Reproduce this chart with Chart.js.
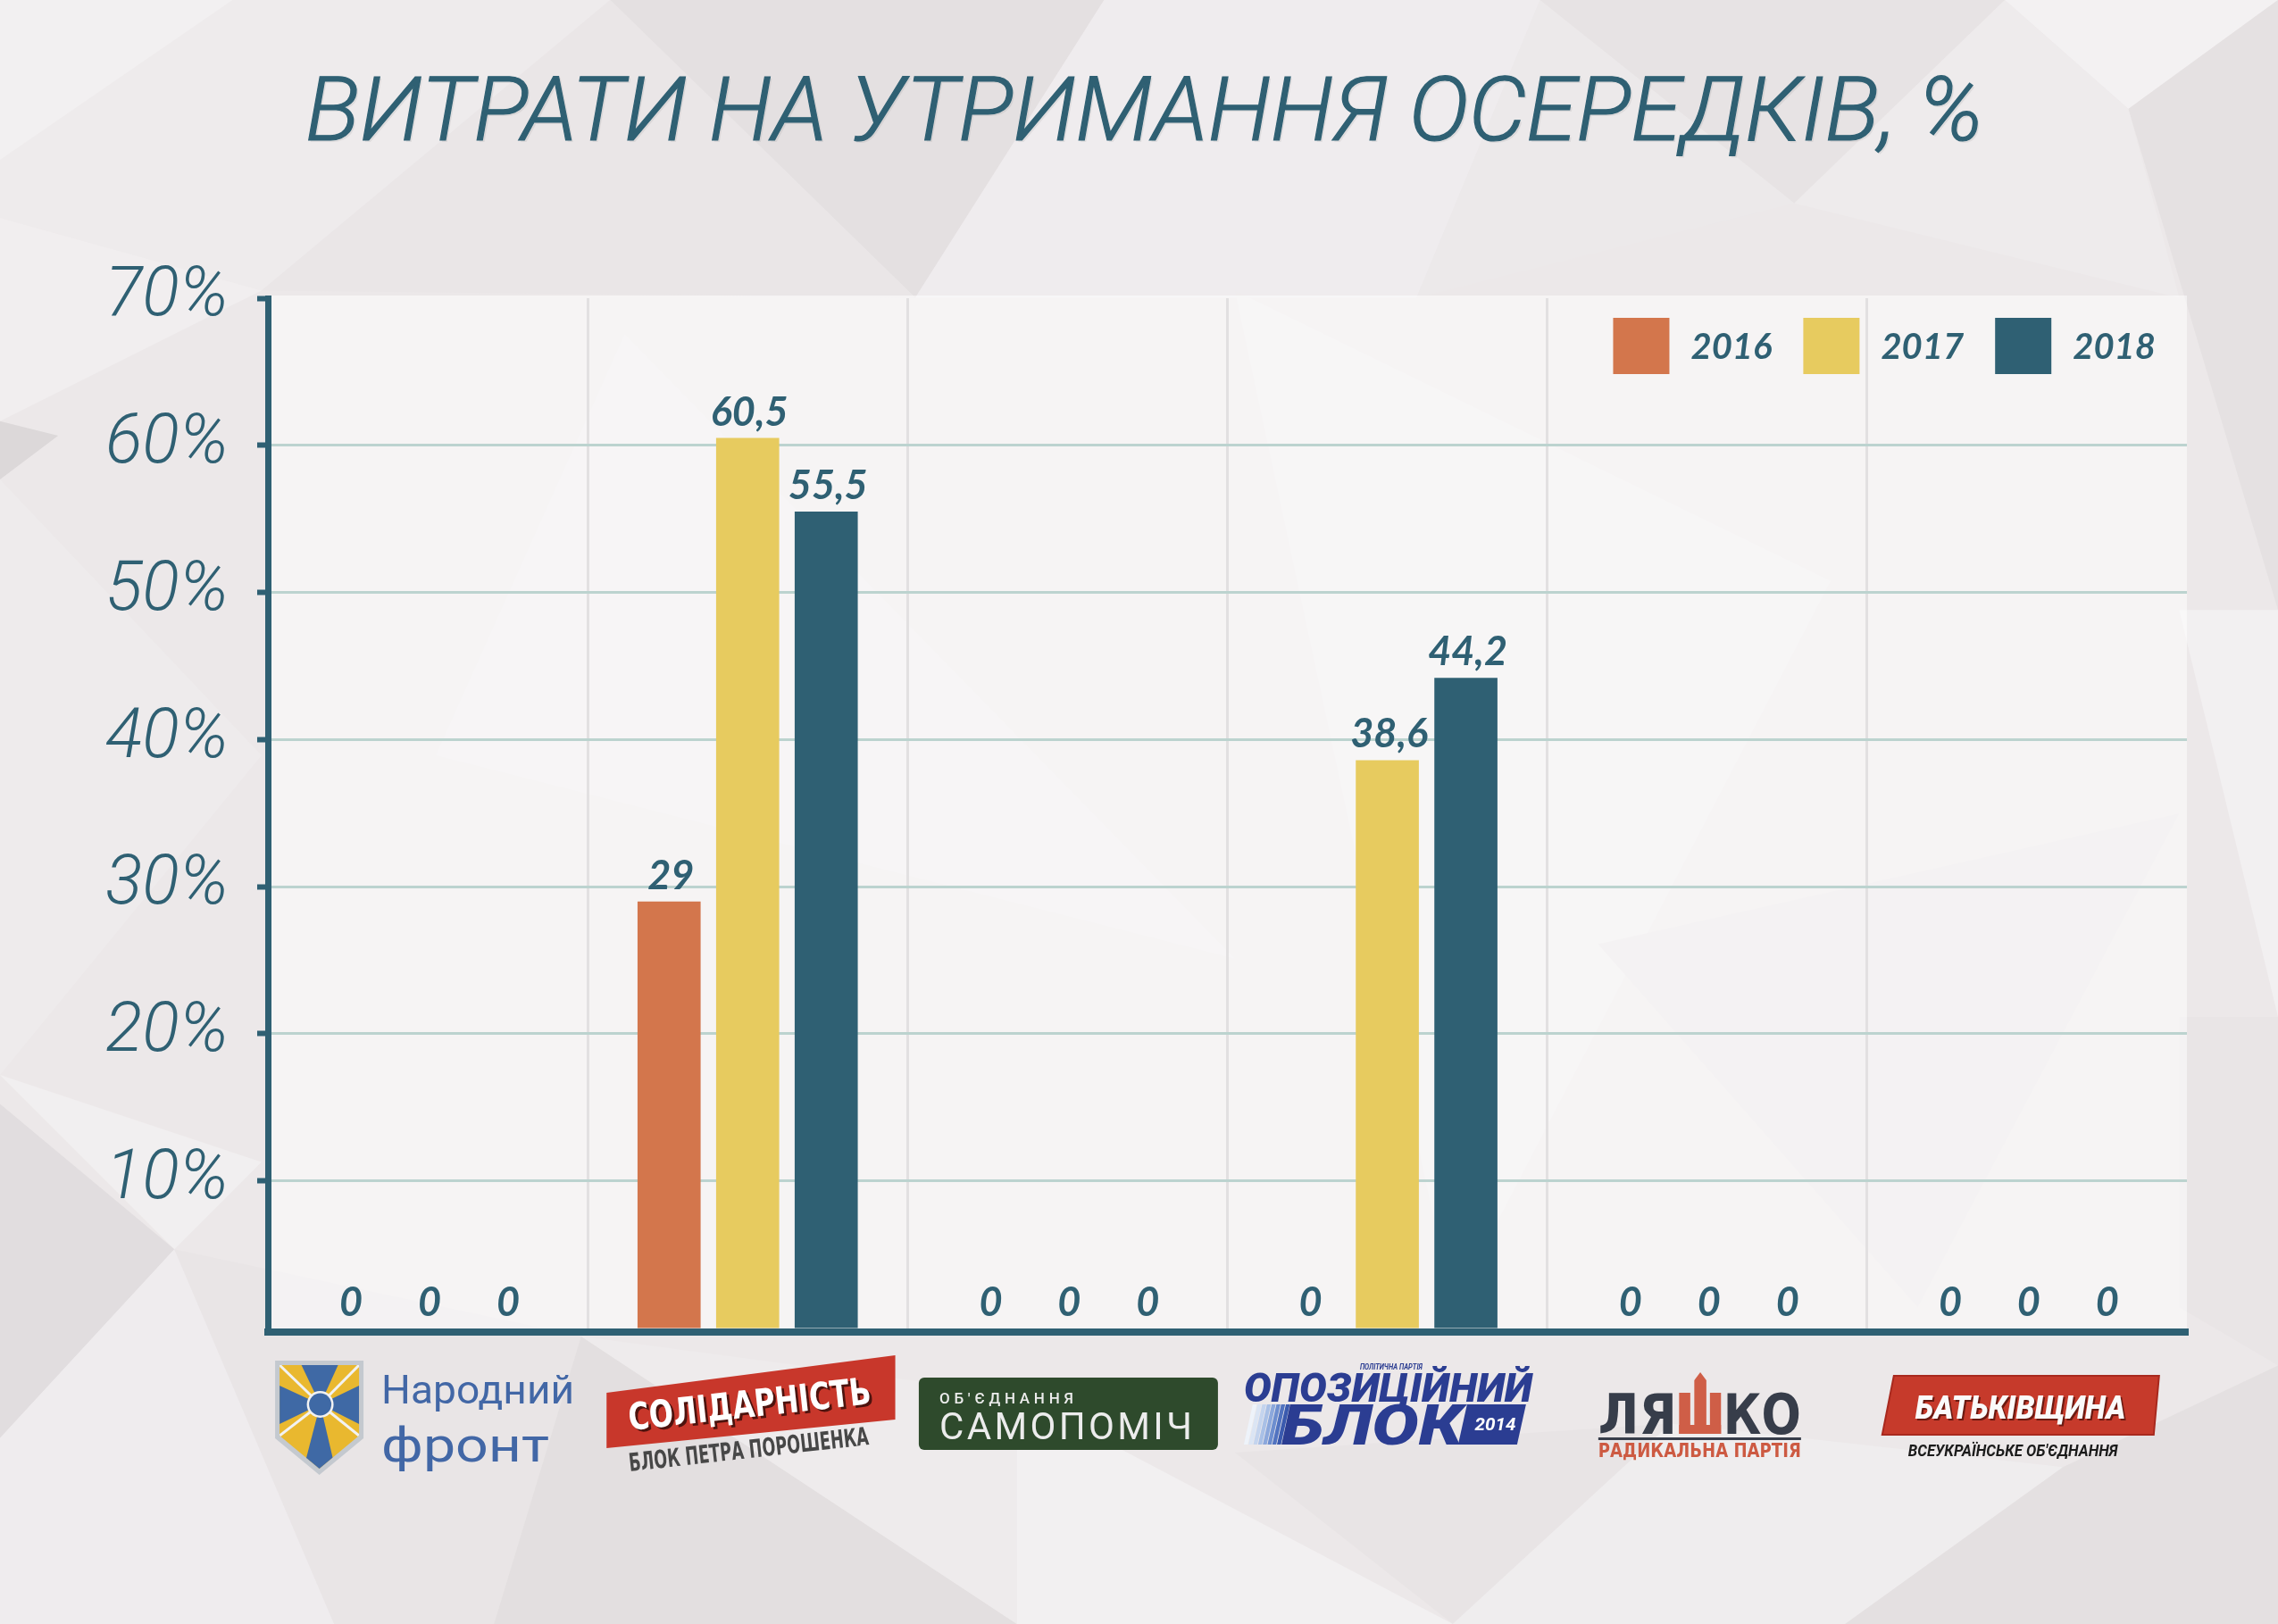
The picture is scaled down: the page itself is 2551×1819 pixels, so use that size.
<!DOCTYPE html>
<html>
<head>
<meta charset="utf-8">
<script src="https://cdn.jsdelivr.net/npm/chart.js"></script>
<style>
html,body{margin:0;padding:0;width:2551px;height:1819px;overflow:hidden;background:#ece8e9;}
#bg{position:absolute;left:0;top:0;width:2551px;height:1819px;}
#c{position:absolute;left:0;top:0;}
#title{position:absolute;left:342px;top:74px;font-family:Roboto,"Open Sans",sans-serif;font-style:italic;font-weight:300;font-size:99px;line-height:99px;color:#2f6073;white-space:nowrap;transform-origin:0 0;text-shadow:2px 2px 0 rgba(90,90,90,0.10);-webkit-text-stroke:1.2px #2f6073;}
</style>
</head>
<body>
<svg id="bg" viewBox="0 0 1568 1118" preserveAspectRatio="none" xmlns="http://www.w3.org/2000/svg">
<rect width="1568" height="1118" fill="#ece8e9"/>
<polygon points="0,0 420,0 180,200 0,150" fill="#eeebec"/>
<polygon points="0,0 160,0 0,110" fill="#f2f0f1"/>
<polygon points="420,0 760,0 630,205" fill="#e4e0e1"/>
<polygon points="420,0 630,205 180,200" fill="#eae6e7"/>
<polygon points="760,0 1060,0 975,205 630,205" fill="#efecee"/>
<polygon points="1060,0 1380,0 1235,140" fill="#e7e3e4"/>
<polygon points="1060,0 1235,140 975,205" fill="#ece9ea"/>
<polygon points="1380,0 1568,0 1465,75" fill="#f3f1f2"/>
<polygon points="1465,75 1568,0 1568,420" fill="#e5e1e2"/>
<polygon points="1380,0 1465,75 1500,205 1235,140" fill="#eeebec"/>
<polygon points="0,150 180,200 0,290" fill="#f1eeef"/>
<polygon points="0,290 40,300 0,330" fill="#dcd8d9"/>
<polygon points="0,330 180,520 0,740" fill="#eeebec"/>
<polygon points="0,740 180,800 120,860" fill="#f1eff0"/>
<polygon points="0,760 120,860 0,990" fill="#e1dddf"/>
<polygon points="0,990 120,860 230,1118 0,1118" fill="#efecee"/>
<polygon points="120,860 400,920 340,1118 230,1118" fill="#e9e5e6"/>
<polygon points="400,920 700,1118 340,1118" fill="#e3dfe0"/>
<polygon points="400,920 700,960 700,1118" fill="#eeebec"/>
<polygon points="700,960 1000,1118 700,1118" fill="#f2f0f1"/>
<polygon points="850,1000 1150,980 1000,1118" fill="#e8e4e5"/>
<polygon points="1150,980 1420,1010 1270,1118 1000,1118" fill="#efedee"/>
<polygon points="1420,1010 1568,940 1568,1118 1270,1118" fill="#e4e0e1"/>
<polygon points="1500,420 1568,420 1568,700" fill="#f2f0f1"/>
<polygon points="1500,700 1568,700 1568,940 1500,900" fill="#e9e5e6"/>
<polygon points="430,230 850,660 300,520" fill="#eeebec"/>
<polygon points="850,200 1260,400 1000,900" fill="#efeced"/>
<polygon points="1100,650 1500,560 1320,900" fill="#e9e5e6"/>
</svg>
<canvas id="c" width="2551" height="1819"></canvas>
<div id="title">ВИТРАТИ НА УТРИМАННЯ ОСЕРЕДКІВ, %</div>
<script>
// ---- data ----
const categories = ['Народний фронт', 'Солідарність', 'Самопоміч', 'Опозиційний блок', 'Радикальна партія Ляшка', 'Батьківщина'];
const seriesLabels = ['2016', '2017', '2018'];
const values2016 = [0, 29, 0, 0, 0, 0];
const values2017 = [0, 60.5, 0, 38.6, 0, 0];
const values2018 = [0, 55.5, 0, 44.2, 0, 0];
const yTickValues = [10, 20, 30, 40, 50, 60, 70];

// ---- styles ----
const seriesColors = ['#d3764c', '#e7cb5f', '#2f6073'];
const TEAL = '#2f6073';

function fitText(ctx, text, x, y, width) {
  const w = ctx.measureText(text).width;
  ctx.save(); ctx.translate(x, y); ctx.scale(width / w, 1); ctx.fillText(text, 0, 0); ctx.restore();
}
function rotText(ctx, text, x, y, angle, width) {
  ctx.save(); ctx.translate(x, y); ctx.rotate(angle);
  const w = ctx.measureText(text).width; ctx.scale(width / w, 1); ctx.fillText(text, 0, 0); ctx.restore();
}
function spacedText(ctx, text, x, y, width) {
  const chars = Array.from(text);
  const ws = chars.map(ch => ctx.measureText(ch).width);
  const total = ws.reduce((a, b) => a + b, 0);
  const gap = chars.length > 1 ? (width - total) / (chars.length - 1) : 0;
  let px = x;
  chars.forEach((ch, i) => { ctx.fillText(ch, px, y); px += ws[i] + gap; });
}
function poly(ctx, pts, fill) {
  ctx.beginPath(); ctx.moveTo(pts[0][0], pts[0][1]);
  for (let i = 1; i < pts.length; i++) ctx.lineTo(pts[i][0], pts[i][1]);
  ctx.closePath(); if (fill) { ctx.fillStyle = fill; ctx.fill(); }
}

const logoDrawers = [
  function (ctx, cx) { // Народний фронт
    const sx = cx - 121.5, L = sx - 49.5, R = sx + 49.5, T = 1524;
    poly(ctx, [[L, T], [R, T], [R, 1611], [sx, 1652], [L, 1611]], '#c4c9cf');
    const l = L + 5, r = R - 5, t = T + 5;
    ctx.save();
    poly(ctx, [[l, t], [r, t], [r, 1608], [sx, 1645], [l, 1608]], '#e9b82f');
    ctx.clip();
    const C = [sx + 1, 1573];
    poly(ctx, [C, [sx - 20, t], [sx + 21, t]], '#3f69a5');
    poly(ctx, [C, [l, 1552], [l, 1595]], '#3f69a5');
    poly(ctx, [C, [r, 1552], [r, 1595]], '#3f69a5');
    poly(ctx, [C, [sx - 19, 1650], [sx + 19, 1650]], '#3f69a5');
    ctx.strokeStyle = '#f2f2f2'; ctx.lineWidth = 3;
    [[l, t], [r, t], [l, 1608], [r, 1608]].forEach(p => { ctx.beginPath(); ctx.moveTo(C[0], C[1]); ctx.lineTo(p[0], p[1]); ctx.stroke(); });
    ctx.restore();
    ctx.beginPath(); ctx.arc(sx + 1, 1573, 15, 0, Math.PI * 2); ctx.fillStyle = '#f2f2f2'; ctx.fill();
    ctx.beginPath(); ctx.arc(sx + 1, 1573, 12.5, 0, Math.PI * 2); ctx.fillStyle = '#3f69a5'; ctx.fill();
    ctx.fillStyle = '#4267a6';
    ctx.font = '400 44px Roboto';
    fitText(ctx, 'Народний', cx - 52, 1572, 216);
    ctx.font = '400 53px Roboto';
    fitText(ctx, 'фронт', cx - 52, 1637, 188);
  },
  function (ctx, cx) { // Солідарність
    poly(ctx, [[cx - 158, 1560], [cx + 165.3, 1518], [cx + 165.3, 1590], [cx - 158, 1622]], '#c8372b');
    ctx.font = 'bold 42px "DejaVu Sans"';
    const a = Math.atan2(-30, 272);
    ctx.fillStyle = '#4d130e';
    rotText(ctx, 'СОЛІДАРНІСТЬ', cx - 132 + 3, 1602 + 2.5, a, 273);
    ctx.fillStyle = '#ffffff';
    rotText(ctx, 'СОЛІДАРНІСТЬ', cx - 132, 1602, a, 273);
    ctx.font = 'bold 28px "DejaVu Sans"';
    ctx.fillStyle = '#474747';
    rotText(ctx, 'БЛОК ПЕТРА ПОРОШЕНКА', cx - 132, 1648, Math.atan2(-30, 269), 270);
  },
  function (ctx, cx) { // Самопоміч
    ctx.beginPath();
    if (ctx.roundRect) ctx.roundRect(cx - 166.5, 1543, 335, 81, 6); else ctx.rect(cx - 166.5, 1543, 335, 81);
    ctx.fillStyle = '#2e4a2c'; ctx.fill();
    ctx.fillStyle = '#ececec';
    ctx.font = '500 17px Roboto';
    spacedText(ctx, "ОБ'ЄДНАННЯ", cx - 143.5, 1572, 150);
    ctx.font = '400 42px Roboto';
    spacedText(ctx, 'САМОПОМІЧ', cx - 143.5, 1612, 283);
  },
  function (ctx, cx) { // Опозиційний блок
    const blue = '#2b3d92';
    ctx.fillStyle = blue;
    ctx.font = 'italic 700 9px Roboto';
    fitText(ctx, 'ПОЛІТИЧНА ПАРТІЯ', cx - 30.7, 1534, 70);
    ctx.font = 'italic 900 45px Roboto';
    fitText(ctx, 'ОПОЗИЦІЙНИЙ', cx - 160.7, 1570, 323);
    const stripeCols = ['#eef3fa', '#dbe5f4', '#c4d4ee', '#a9c0e6', '#8ca8dc', '#6d8ecf', '#5173c0', '#3a5aae'];
    const x0 = cx - 160.7;
    stripeCols.forEach((col, i) => {
      const x = x0 + i * 5.3;
      poly(ctx, [[x, 1618], [x + 10, 1573], [x + 14.5, 1573], [x + 4.5, 1618]], col);
    });
    ctx.fillStyle = blue;
    ctx.font = 'italic 900 62px Roboto';
    fitText(ctx, 'БЛОК', cx - 118.7, 1618, 203);
    poly(ctx, [[cx + 79.3, 1618], [cx + 89.3, 1573], [cx + 155.3, 1573], [cx + 145.3, 1618]], blue);
    ctx.fillStyle = '#ffffff';
    ctx.font = 'italic 700 20px Roboto';
    fitText(ctx, '2014', cx + 98, 1602, 46);
  },
  function (ctx, cx) { // Ляшко
    const dark = '#373d4a', red = '#cf5e47';
    ctx.fillStyle = dark;
    ctx.font = 'bold 63px "DejaVu Sans"';
    fitText(ctx, 'ЛЯ', cx - 121.9, 1606, 88);
    fitText(ctx, 'КО', cx + 18.1, 1606, 87);
    ctx.fillStyle = red;
    ctx.fillRect(cx - 31.4, 1560, 12.5, 46);
    ctx.fillRect(cx + 3.1, 1560, 12.4, 46);
    ctx.fillRect(cx - 31.4, 1596, 46.9, 10);
    poly(ctx, [[cx - 14.4, 1606], [cx - 14.4, 1546], [cx - 7.7, 1537], [cx - 0.9, 1546], [cx - 0.9, 1606]], red);
    ctx.fillStyle = dark;
    ctx.fillRect(cx - 121.9, 1610, 227, 3);
    ctx.fillStyle = '#cd5a42';
    ctx.font = 'bold 21px "DejaVu Sans"';
    fitText(ctx, 'РАДИКАЛЬНА ПАРТІЯ', cx - 121.9, 1632, 227);
  },
  function (ctx, cx) { // Батьківщина
    poly(ctx, [[cx - 149.1, 1541], [cx + 147.9, 1541], [cx + 141.9, 1607], [cx - 162.1, 1607]], '#c63a2b');
    ctx.strokeStyle = '#a8291e'; ctx.lineWidth = 2; ctx.stroke();
    ctx.font = 'italic 900 37px Roboto';
    ctx.fillStyle = '#6b1a12';
    fitText(ctx, 'БАТЬКІВЩИНА', cx - 125.1 + 2, 1589 + 2, 235.5);
    ctx.fillStyle = '#fafafa';
    fitText(ctx, 'БАТЬКІВЩИНА', cx - 125.1, 1589, 235.5);
    ctx.fillStyle = '#1b1b1b';
    ctx.font = 'italic 700 18px Roboto';
    fitText(ctx, "ВСЕУКРАЇНСЬКЕ ОБ'ЄДНАННЯ", cx - 133.1, 1631, 234.6);
  }
];

const plotBg = {
  id: 'plotBg',
  beforeDraw(chart) {
    const { ctx, chartArea: a } = chart;
    ctx.save();
    ctx.fillStyle = 'rgba(255,255,255,0.5)';
    ctx.fillRect(a.left, a.top - 3, a.right - a.left, a.bottom - a.top + 3);
    ctx.restore();
  }
};

const valueLabels = {
  id: 'valueLabels',
  afterDatasetsDraw(chart) {
    const ctx = chart.ctx;
    ctx.save();
    ctx.font = 'italic 700 45px Lato';
    ctx.fillStyle = TEAL;
    ctx.textAlign = 'center';
    ctx.textBaseline = 'alphabetic';
    chart.data.datasets.forEach((ds, di) => {
      const meta = chart.getDatasetMeta(di);
      meta.data.forEach((bar, i) => {
        const txt = String(ds.data[i]).replace('.', ',');
        ctx.fillText(txt, bar.x + 2, bar.y - 14);
      });
    });
    ctx.restore();
  }
};

const customLegend = {
  id: 'customLegend',
  afterDraw(chart) {
    const ctx = chart.ctx, a = chart.chartArea;
    const box = 63, top = a.top + 22;
    ctx.save();
    ctx.font = 'italic 700 40px Lato';
    ctx.textAlign = 'left';
    ctx.textBaseline = 'alphabetic';
    let x = a.right - 35;
    const ds = chart.data.datasets;
    for (let i = ds.length - 1; i >= 0; i--) {
      const w = ctx.measureText(ds[i].label).width;
      x -= w;
      ctx.fillStyle = TEAL;
      ctx.fillText(ds[i].label, x, top + 46);
      x -= 24 + box;
      ctx.fillStyle = ds[i].backgroundColor;
      ctx.fillRect(x, top, box, box);
      x -= 35;
    }
    ctx.restore();
  }
};

const logos = {
  id: 'logos',
  afterDraw(chart) {
    const ctx = chart.ctx, xs = chart.scales.x;
    ctx.save();
    ctx.textAlign = 'left';
    ctx.textBaseline = 'alphabetic';
    categories.forEach((c, i) => {
      ctx.save();
      logoDrawers[i](ctx, xs.getPixelForValue(i));
      ctx.restore();
    });
    ctx.restore();
  }
};

const seriesValues = [values2016, values2017, values2018];

new Chart(document.getElementById('c'), {
  type: 'bar',
  data: {
    labels: categories,
    datasets: seriesLabels.map((label, i) => ({
      label: label,
      data: seriesValues[i],
      backgroundColor: seriesColors[i],
      borderWidth: 0,
      categoryPercentage: 0.737,
      barPercentage: 0.803
    }))
  },
  options: {
    responsive: false,
    devicePixelRatio: 1,
    animation: false,
    layout: { padding: { top: 334, right: 102, left: 0, bottom: 0 } },
    plugins: { legend: { display: false }, tooltip: { enabled: false }, title: { display: false } },
    scales: {
      x: {
        grid: {
          offset: true,
          color: (c) => (c.index === undefined || c.index === 0) ? 'rgba(0,0,0,0)' : '#e2e0e1',
          lineWidth: 3,
          drawTicks: false
        },
        border: { display: true, color: TEAL, width: 8 },
        ticks: { display: false },
        afterFit: (s) => { s.height = 1819 - 1492; }
      },
      y: {
        min: -0.27,
        max: 70,
        afterBuildTicks: (s) => { s.ticks = yTickValues.map(v => ({ value: v })); },
        grid: {
          color: (c) => (c.tick && c.tick.value === 70) ? 'rgba(0,0,0,0)' : '#bcd3cf',
          lineWidth: 3,
          tickLength: 12,
          tickColor: TEAL,
          tickWidth: 6
        },
        border: { display: true, color: TEAL, width: 7 },
        ticks: {
          padding: 32,
          color: TEAL,
          font: { family: 'Roboto', size: 77, style: 'italic', weight: '300' },
          callback: (v) => v + '%'
        },
        afterFit: (s) => { s.width = 300; }
      }
    }
  },
  plugins: [plotBg, valueLabels, customLegend, logos]
});

(function fitTitle() {
  const t = document.getElementById('title');
  const w = t.getBoundingClientRect().width;
  if (w > 0) t.style.transform = 'scaleX(' + (1879 / w) + ')';
})();
</script>
</body>
</html>
